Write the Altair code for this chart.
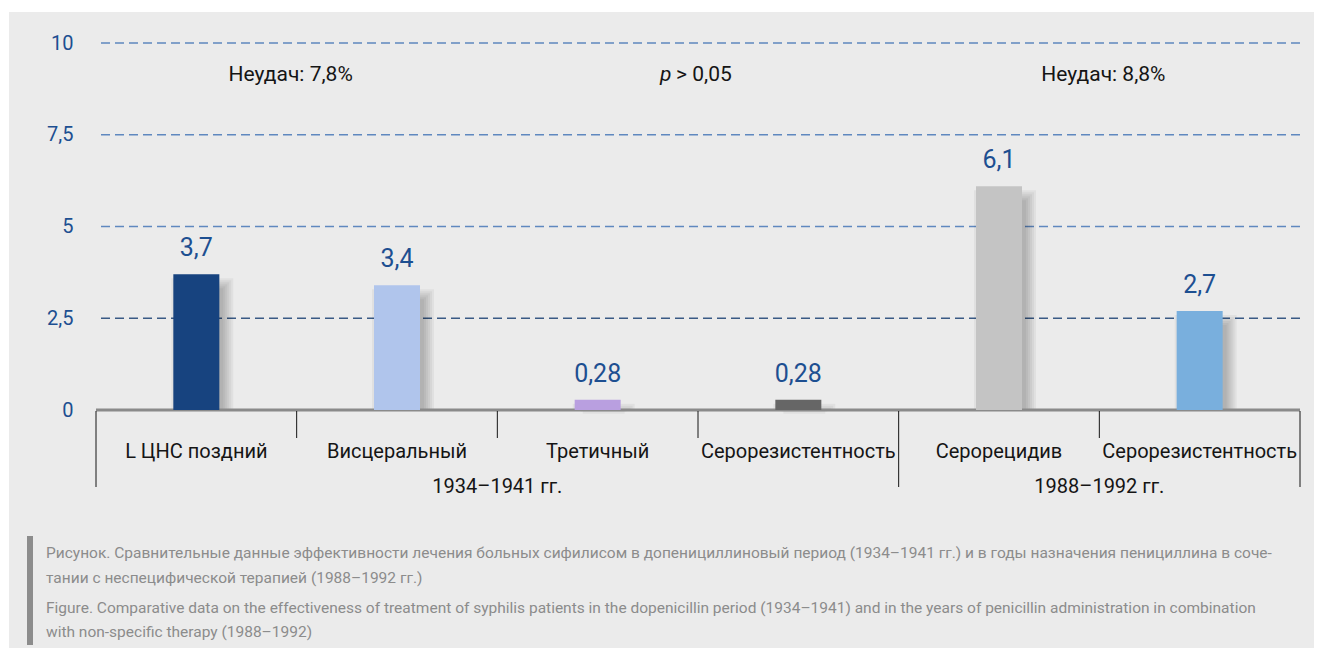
import altair as alt
import pandas as pd

# ---------------- data ----------------
categories = ["L ЦНС поздний", "Висцеральный", "Третичный", "Серорезистентность",
              "Серорецидив", "Серорезистентность"]
values = [3.7, 3.4, 0.28, 0.28, 6.1, 2.7]
value_labels = ["3,7", "3,4", "0,28", "0,28", "6,1", "2,7"]
bar_colors = ["#17437f", "#b0c5ec", "#b99fe0", "#666666", "#c4c4c4", "#79afdd"]

periods = ["1934–1941 гг.", "1988–1992 гг."]
period_start = [0, 4]
period_end = [4, 6]

failures = ["Неудач: 7,8%", "Неудач: 8,8%"]
failure_x = [0.97, 5.02]
pvalue_x = 3.0

y_ticks = [0, 2.5, 5, 7.5, 10]
grid_ticks = [2.5, 5, 7.5, 10]
grid_colors = ["#3a5a85", "#5f88bf", "#5f88bf", "#5f88bf"]

caption_lines = [
    "Рисунок. Сравнительные данные эффективности лечения больных сифилисом в допенициллиновый период (1934–1941 гг.) и в годы назначения пенициллина в соче-",
    "тании с неспецифической терапией (1988–1992 гг.)",
    "Figure. Comparative data on the effectiveness of treatment of syphilis patients in the dopenicillin period (1934–1941) and in the years of penicillin administration in combination",
    "with non-specific therapy (1988–1992)",
]

# ---------------- layout constants ----------------
W, H = 1204, 367
FONT = "Roboto"
BLUE = "#1d4f91"
TXT = "#151515"

bars_df = pd.DataFrame({
    "x": [i + 0.5 for i in range(len(categories))],
    "value": values,
    "label": value_labels,
    "color": bar_colors,
    "category": categories,
})
grid_df = pd.DataFrame({"y": grid_ticks, "color": grid_colors})
bounds = sorted(set(period_start + period_end))
long_df = pd.DataFrame({"x": bounds})
short_df = pd.DataFrame({"x": [b for b in range(len(categories) + 1) if b not in bounds]})
period_df = pd.DataFrame({"x": [(a + b) / 2 for a, b in zip(period_start, period_end)],
                          "label": periods})
fail_df = pd.DataFrame({"x": failure_x, "label": failures})
pv_df = pd.DataFrame({"x": [pvalue_x]})
one = pd.DataFrame({"d": [0]})

xs = alt.Scale(domain=[0, len(categories)], padding=0, nice=False)
ys = alt.Scale(domain=[0, 10], nice=False)
X = alt.X("x:Q", scale=xs, axis=None)

bg = alt.Chart(one).mark_rect(color="#ebebeb").encode(
    x=alt.value(-87), x2=alt.value(1218), y=alt.value(-31), y2=alt.value(605))

grid = alt.Chart(grid_df).mark_rule(strokeDash=[9, 5], strokeWidth=1.3).encode(
    y=alt.Y("y:Q", scale=ys, axis=alt.Axis(
        values=y_ticks, labelExpr="replace(toString(datum.value), '.', ',')",
        domain=False, ticks=False, grid=False, labelPadding=23, labelFontSize=20,
        labelColor=BLUE, labelFont=FONT, title=None, zindex=2)),
    color=alt.Color("color:N", scale=None))

shadows = []
for k in range(6):
    shadows.append(
        alt.Chart(bars_df).mark_bar(size=42 + 4 * k, xOffset=6, yOffset=14 - 2 * k,
                                    color="#000000", opacity=0.045).encode(
            x=X, y=alt.Y("value:Q", scale=ys), y2=alt.value(H + 2 + 3 * k)))

baseline = alt.Chart(one).mark_rule(color="#8a8a8a", strokeWidth=3).encode(
    y=alt.datum(0, scale=ys))

bars = alt.Chart(bars_df).mark_bar(size=46).encode(
    x=X,
    y=alt.Y("value:Q", scale=ys),
    color=alt.Color("color:N", scale=None))

vlabels = alt.Chart(bars_df).mark_text(font=FONT, fontSize=25, color=BLUE,
                                       baseline="alphabetic", dy=-18).encode(
    x=X, y=alt.Y("value:Q", scale=ys), text="label:N")

long_ticks = alt.Chart(long_df).mark_rule(color=TXT, strokeWidth=1).encode(
    x=X, y=alt.value(H + 1), y2=alt.value(H + 77))
short_ticks = alt.Chart(short_df).mark_rule(color=TXT, strokeWidth=1).encode(
    x=X, y=alt.value(H + 1), y2=alt.value(H + 28))

cat_text = alt.Chart(bars_df).mark_text(font=FONT, fontSize=20, color=TXT,
                                        baseline="alphabetic").encode(
    x=X, y=alt.value(H + 48), text="category:N")
period_text = alt.Chart(period_df).mark_text(font=FONT, fontSize=20, color=TXT,
                                             baseline="alphabetic").encode(
    x=X, y=alt.value(H + 83), text="label:N")
fail_text = alt.Chart(fail_df).mark_text(font=FONT, fontSize=21, color=TXT,
                                         baseline="alphabetic").encode(
    x=X, y=alt.value(38), text="label:N")
p_text = alt.Chart(pv_df).mark_text(font=FONT, fontSize=21, color=TXT, fontStyle="italic",
                                    baseline="alphabetic", align="left", dx=-38).encode(
    x=X, y=alt.value(38), text=alt.value("p"))
p_rest = alt.Chart(pv_df).mark_text(font=FONT, fontSize=21, color=TXT,
                                    baseline="alphabetic", align="left", dx=-22).encode(
    x=X, y=alt.value(38), text=alt.value("> 0,05"))

cap_bar = alt.Chart(one).mark_rect(color="#8c8c8c").encode(
    x=alt.value(-69), x2=alt.value(-63), y=alt.value(493), y2=alt.value(602))
cap_layers = []
for line, yy in zip(caption_lines, [515, 540, 570, 594]):
    cap_layers.append(alt.Chart(one).mark_text(font=FONT, fontSize=15.5, color="#8c8c8c",
                                               baseline="alphabetic", align="left").encode(
        x=alt.value(-50), y=alt.value(yy), text=alt.value(line)))

chart = alt.layer(bg, grid, *shadows, baseline, bars, vlabels, long_ticks, short_ticks,
                  cat_text, period_text, fail_text, p_text, p_rest, cap_bar, *cap_layers).properties(
    width=W, height=H,
    autosize=alt.AutoSizeParams(type="none"),
    padding={"left": 88, "top": 35, "right": 14, "bottom": 238},
    background="white",
).configure_view(stroke=None)

chart.save("out.html", embed_options={"renderer": "svg", "actions": False})
